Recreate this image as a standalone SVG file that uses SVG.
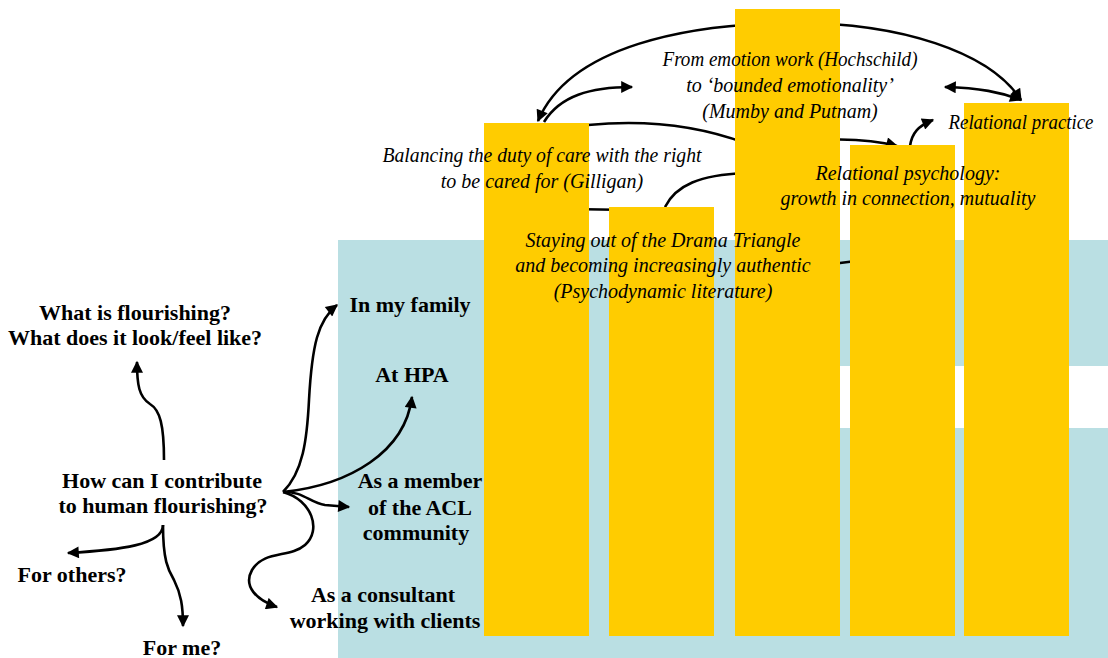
<svg xmlns="http://www.w3.org/2000/svg" width="1108" height="658" viewBox="0 0 1108 658">
<style>
.b{font-family:"Liberation Serif","Times New Roman",serif;font-weight:bold;font-size:22px;fill:#000;text-anchor:middle}
.i{font-family:"Liberation Serif","Times New Roman",serif;font-style:italic;font-size:20px;fill:#000;text-anchor:middle}
.c{fill:none;stroke:#000;stroke-width:2.6}
.bar{fill:#FFCC00}
</style>
<defs>
<marker id="ah" viewBox="0 0 10 10" refX="9" refY="5" markerWidth="14" markerHeight="12" markerUnits="userSpaceOnUse" orient="auto-start-reverse">
<path d="M0,0 L10,5 L0,10 z" fill="#000"/>
</marker>
</defs>
<rect x="0" y="0" width="1108" height="658" fill="#fff"/>
<g id="background">
<rect x="338" y="240" width="770" height="418" fill="#BADFE3"/>
<rect x="840" y="366" width="268" height="62" fill="#fff"/>
</g>
<g id="left-nodes">
<g id="n-flourishing"><text class="b" x="135" y="320">What is flourishing?</text><text class="b" x="135" y="345">What does it look/feel like?</text></g>
<g id="n-contribute"><text class="b" x="162" y="488">How can I contribute</text><text class="b" x="163" y="513">to human flourishing?</text></g>
<g id="n-others"><text class="b" x="72" y="582">For others?</text></g>
<g id="n-me"><text class="b" x="182" y="655">For me?</text></g>
<g id="n-family"><text class="b" x="410" y="312">In my family</text></g>
<g id="n-hpa"><text class="b" x="412" y="382">At HPA</text></g>
<g id="n-acl"><text class="b" x="420" y="488">As a member</text><text class="b" x="420" y="515">of the ACL</text><text class="b" x="416" y="540">community</text></g>
<g id="n-consultant"><text class="b" x="383" y="602">As a consultant</text><text class="b" x="385" y="628">working with clients</text></g>
</g>
<g id="connectors">
<path class="c" marker-end="url(#ah)" d="M164,460 C164,425 160,410 150,404 C139,397 137,385 137,362"/>
<path class="c" marker-end="url(#ah)" d="M163,525 C163,545 120,550 68,553"/>
<path class="c" marker-end="url(#ah)" d="M163,525 C163,560 168,570 174,580 C181,594 183,606 183,626"/>
<path class="c" marker-end="url(#ah)" d="M283,492 C303,472 307,440 309,400 C312,345 318,320 337,305"/>
<path class="c" marker-end="url(#ah)" d="M283,492 C350,485 405,452 412,397"/>
<path class="c" marker-end="url(#ah)" d="M283,492 C303,491 310,503 325,505 L349,507"/>
<path class="c" marker-end="url(#ah)" d="M283,492 C312,500 322,530 305,545 C290,558 264,550 252,570 C243,586 256,600 277,607"/>
<path class="c" marker-start="url(#ah)" marker-end="url(#ah)" d="M538,121 C570,45 690,24 790,23 C900,22 990,52 1021,100"/>
<path class="c" marker-end="url(#ah)" d="M544,122 C560,96 590,87 632,87"/>
<path class="c" marker-start="url(#ah)" marker-end="url(#ah)" d="M945,87 C980,88 1000,92 1021,100"/>
<path class="c" marker-end="url(#ah)" d="M588,125 C660,118 710,130 745,143 C790,142 850,134 897,146"/>
<path class="c" d="M665,207 C676,185 700,175 745,173"/>
<path class="c" d="M570,209 L630,210"/>
<path class="c" marker-end="url(#ah)" d="M910,146 C912,133 918,126 933,120"/>
<path class="c" d="M800,268 L880,258"/>
</g>
<g id="bars">
<rect class="bar" x="484" y="123" width="105" height="513"/>
<rect class="bar" x="609" y="207" width="105" height="429"/>
<rect class="bar" x="735" y="9" width="105" height="627"/>
<rect class="bar" x="850" y="145" width="105" height="491"/>
<rect class="bar" x="964" y="103" width="105" height="533"/>
</g>
<g id="top-nodes">
<g id="n-emotion"><text class="i" x="790" y="66" textLength="255" lengthAdjust="spacingAndGlyphs">From emotion work (Hochschild)</text><text class="i" x="790" y="92">to ‘bounded emotionality’</text><text class="i" x="790" y="118">(Mumby and Putnam)</text></g>
<g id="n-relpractice"><text class="i" x="1021" y="129" textLength="145" lengthAdjust="spacingAndGlyphs">Relational practice</text></g>
<g id="n-balancing"><text class="i" x="542" y="162" textLength="319" lengthAdjust="spacingAndGlyphs">Balancing the duty of care with the right</text><text class="i" x="542" y="188">to be cared for (Gilligan)</text></g>
<g id="n-relpsych"><text class="i" x="908" y="180">Relational psychology:</text><text class="i" x="908" y="205">growth in connection, mutuality</text></g>
<g id="n-drama"><text class="i" x="663" y="247">Staying out of the Drama Triangle</text><text class="i" x="663" y="272">and becoming increasingly authentic</text><text class="i" x="663" y="298">(Psychodynamic literature)</text></g>
</g>
</svg>
